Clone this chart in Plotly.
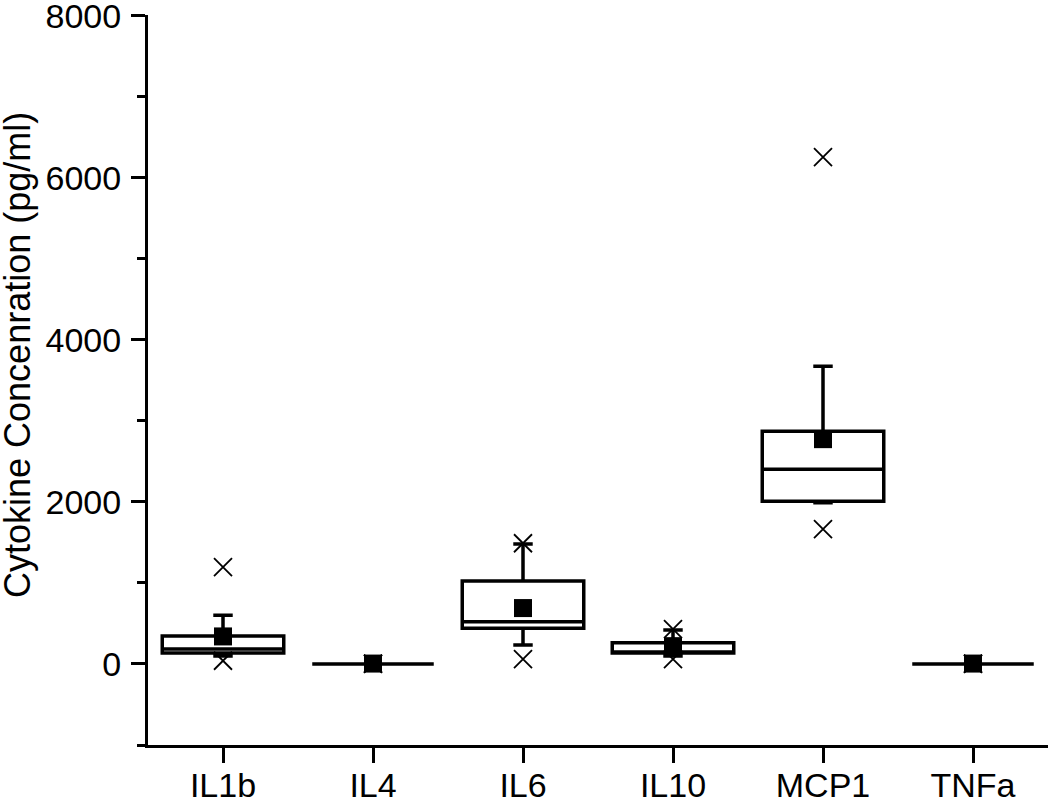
import plotly.graph_objects as go

CATS = ["IL1b", "IL4", "IL6", "IL10", "MCP1", "TNFa"]
Q1 = [135, 0, 440, 136, 2010, 0]
MEDIAN = [185, 0, 520, 140, 2404, 0]
Q3 = [345, 0, 1023, 262, 2873, 0]
WHISK_LO = [100, 0, 235, 100, 1990, 0]
WHISK_HI = [600, 0, 1480, 420, 3675, 0]
MEAN = [340, 5, 690, 220, 2775, 5]
X_HI = [1195, 5, 1490, 430, 6255, 5]
X_LO = [40, 0, 60, 60, 1665, 0]
Y_TICKS = [0, 2000, 4000, 6000, 8000]
Y_TITLE = "Cytokine Concenration (pg/ml)"

FONT = "Liberation Sans, Arial, Helvetica, sans-serif"

fig = go.Figure()
fig.add_trace(go.Box(
    x=CATS, q1=Q1, median=MEDIAN, q3=Q3,
    lowerfence=WHISK_LO, upperfence=WHISK_HI,
    boxpoints=False, width=0.81, whiskerwidth=0.16,
    line=dict(color="black", width=3.5), fillcolor="white",
    showlegend=False, hoverinfo="skip",
))
fig.add_trace(go.Scatter(
    x=CATS + CATS, y=X_HI + X_LO, mode="markers",
    marker=dict(symbol="x-thin-open", size=18, color="black",
                line=dict(color="black", width=1.8)),
    showlegend=False,
))
fig.add_trace(go.Scatter(
    x=CATS, y=MEAN, mode="markers",
    marker=dict(symbol="square", size=18, color="black",
                line=dict(width=0)),
    showlegend=False,
))

fig.add_annotation(
    text=Y_TITLE, textangle=-90, xref="paper", yref="paper",
    x=(17 - 148) / 900, y=(745 - 355) / 730, xanchor="center", yanchor="middle",
    showarrow=False, font=dict(size=36, family=FONT, color="black"),
)

fig.update_layout(
    width=1050, height=798,
    margin=dict(l=148, r=2, t=15, b=53),
    paper_bgcolor="white", plot_bgcolor="white",
    font=dict(family=FONT, size=34, color="black"),
    xaxis=dict(
        type="category", categoryorder="array", categoryarray=CATS,
        range=[-0.5, 5.5], showgrid=False, zeroline=False, automargin=False,
        showline=True, linecolor="black", linewidth=3,
        ticks="outside", ticklen=15, tickwidth=2.5, tickcolor="black",
        tickfont=dict(size=34), ticklabelstandoff=-7, ticklabeloverflow="allow",
    ),
    yaxis=dict(
        range=[-1000, 8010], tickmode="array", tickvals=Y_TICKS,
        automargin=False, showgrid=False, zeroline=False,
        showline=True, linecolor="black", linewidth=3,
        ticks="outside", ticklen=14, tickwidth=2.5, tickcolor="black",
        tickfont=dict(size=34), ticklabelstandoff=3, ticklabeloverflow="allow",
        minor=dict(tickmode="linear", dtick=1000, tick0=0, ticks="outside", ticklen=8,
                   tickwidth=2.5, tickcolor="black", showgrid=False),
    ),
)

fig.write_html(
    "out.html",
    config={"displayModeBar": False},
    post_script="document.body.style.margin='0';document.body.style.overflow='hidden';",
)
